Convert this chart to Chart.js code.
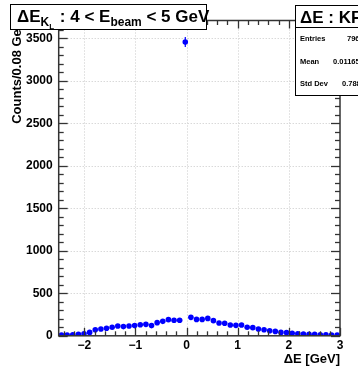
<!DOCTYPE html>
<html>
<head>
<meta charset="utf-8">
<script src="https://cdn.jsdelivr.net/npm/chart.js@4/dist/chart.umd.min.js"></script>
<style>
html,body{margin:0;padding:0;background:#fff;}
#wrap{width:358px;height:366px;position:relative;}
canvas{display:block;}
</style>
</head>
<body>
<div id="wrap"><canvas id="c" width="358" height="366"></canvas></div>
<script>
// ---- data ----
const binCenters = [-2.445,-2.335,-2.225,-2.115,-2.005,-1.895,-1.785,-1.675,-1.565,-1.455,
  -1.345,-1.235,-1.125,-1.015,-0.905,-0.795,-0.685,-0.575,-0.465,-0.355,
  -0.245,-0.135,-0.025,0.085,0.195,0.305,0.415,0.525,0.635,0.745,
  0.855,0.965,1.075,1.185,1.295,1.405,1.515,1.625,1.735,1.845,
  1.955,2.065,2.175,2.285,2.395,2.505,2.615,2.725,2.835,2.945];
const counts = [10,10,13,17,25,40,72,80,88,100,
  115,108,115,120,130,135,120,155,170,190,
  183,183,3456,217,193,193,205,178,150,147,
  127,123,127,100,96,80,72,60,52,40,
  37,29,25,21,17,17,13,13,10,10];
const yTickValues = [0,500,1000,1500,2000,2500,3000,3500];
const xTickValues = [-2,-1,0,1,2,3];
const statNames = ["Entries","Mean","Std Dev"];
const statValues = ["7965","0.01165","0.7885"];
const titleText = {main:"\u0394E", sub:"K", subsub:"L", mid:" : 4 < E", sub2:"beam", end:" < 5 GeV"};
const statsTitle = "\u0394E : KFit";
const xTitle = "\u0394E [GeV]";
const yTitle = "Counts/0.08 GeV";

const FONT = '"Liberation Sans", Arial, Helvetica, sans-serif';

const points = binCenters.map((x,i)=>({x:x, y:counts[i]}));

const rootPlugin = {
  id:'rootStyle',
  beforeDatasetsDraw(chart){
    const ctx = chart.ctx, a = chart.chartArea;
    const xs = chart.scales.x, ys = chart.scales.y;
    ctx.save();
    ctx.strokeStyle = '#c8c8c8';
    ctx.lineWidth = 1;
    ctx.setLineDash([1,2]);
    xTickValues.forEach(v=>{
      const px = Math.round(xs.getPixelForValue(v))+0.5;
      if (px > a.right-2) return;
      ctx.beginPath(); ctx.moveTo(px,a.top); ctx.lineTo(px,a.bottom); ctx.stroke();
    });
    yTickValues.forEach(v=>{
      const py = Math.round(ys.getPixelForValue(v))+0.5;
      if (py > a.bottom-2) return;
      ctx.beginPath(); ctx.moveTo(a.left,py); ctx.lineTo(a.right,py); ctx.stroke();
    });
    ctx.setLineDash([]);
    ctx.strokeStyle = '#0000ff';
    ctx.lineWidth = 1.2;
    points.forEach(p=>{
      const e = Math.sqrt(p.y);
      const px = xs.getPixelForValue(p.x);
      ctx.beginPath();
      ctx.moveTo(px, ys.getPixelForValue(p.y+e));
      ctx.lineTo(px, ys.getPixelForValue(p.y-e));
      ctx.stroke();
    });
    ctx.restore();
  },
  afterDatasetsDraw(chart){
    const ctx = chart.ctx, a = chart.chartArea;
    const xs = chart.scales.x, ys = chart.scales.y;
    ctx.save();
    ctx.strokeStyle = '#333';
    ctx.lineWidth = 1.3;
    for (let v=0; v<=3700; v+=100){
      const py = Math.round(ys.getPixelForValue(v))+0.5;
      const L = (v%500===0)?9:5;
      ctx.beginPath(); ctx.moveTo(a.left,py); ctx.lineTo(a.left+L,py); ctx.stroke();
      ctx.beginPath(); ctx.moveTo(a.right,py); ctx.lineTo(a.right-L,py); ctx.stroke();
    }
    for (let k=-12; k<=15; k++){
      const v = k*0.2;
      if (v < -2.5 || v > 3.0001) continue;
      const px = Math.round(xs.getPixelForValue(v))+0.5;
      const major = (k%5===0);
      const L = major?8:4.5;
      ctx.beginPath(); ctx.moveTo(px,a.bottom); ctx.lineTo(px,a.bottom-L); ctx.stroke();
      ctx.beginPath(); ctx.moveTo(px,a.top); ctx.lineTo(px,a.top+L); ctx.stroke();
    }
    ctx.lineWidth = 1.5;
    ctx.strokeStyle = '#333';
    ctx.strokeRect(a.left, a.top, a.right-a.left, a.bottom-a.top);
    ctx.fillStyle = '#000';
    ctx.font = 'bold 13px '+FONT;
    ctx.textAlign = 'right';
    ctx.textBaseline = 'alphabetic';
    ctx.fillText(xTitle, a.right, 363);
    ctx.save();
    ctx.translate(21, a.top);
    ctx.rotate(-Math.PI/2);
    ctx.textAlign = 'right';
    ctx.fillText(yTitle, 0, 0);
    ctx.restore();

    // title box
    ctx.fillStyle = '#fff';
    ctx.fillRect(10,4,197,26);
    ctx.strokeStyle = '#000';
    ctx.lineWidth = 1;
    ctx.strokeRect(10.5,4.5,196,25);
    ctx.fillStyle = '#000';
    ctx.textAlign = 'left';
    let x = 17, base = 22;
    ctx.font = 'bold 17px '+FONT;
    ctx.fillText(titleText.main, x, base); x += ctx.measureText(titleText.main).width;
    ctx.font = 'bold 12px '+FONT;
    ctx.fillText(titleText.sub, x, base+4); x += ctx.measureText(titleText.sub).width;
    ctx.font = 'bold 8px '+FONT;
    ctx.fillText(titleText.subsub, x, base+7); x += ctx.measureText(titleText.subsub).width+1;
    ctx.font = 'bold 17px '+FONT;
    ctx.fillText(titleText.mid, x, base); x += ctx.measureText(titleText.mid).width;
    ctx.font = 'bold 12px '+FONT;
    ctx.fillText(titleText.sub2, x, base+4); x += ctx.measureText(titleText.sub2).width;
    ctx.font = 'bold 17px '+FONT;
    ctx.fillText(titleText.end, x, base);

    // stats box
    ctx.fillStyle = '#fff';
    ctx.fillRect(295,5,70,91);
    ctx.strokeStyle = '#000';
    ctx.lineWidth = 1;
    ctx.strokeRect(295.5,5.5,70,90);
    ctx.beginPath(); ctx.moveTo(295,27.5); ctx.lineTo(358,27.5); ctx.stroke();
    ctx.fillStyle = '#000';
    ctx.font = 'bold 17px '+FONT;
    ctx.textAlign = 'left';
    ctx.fillText(statsTitle, 300, 23);
    ctx.font = 'bold 7.5px '+FONT;
    const rowsY = [41, 64, 86];
    const valX = [347, 333, 342];
    statNames.forEach((n,i)=>{
      ctx.textAlign = 'left';
      ctx.fillText(n, 300, rowsY[i]);
      ctx.fillText(statValues[i], valX[i], rowsY[i]);
    });
    ctx.restore();
  }
};

new Chart(document.getElementById('c'), {
  type:'scatter',
  data:{datasets:[{
    data: points,
    backgroundColor:'#0000ff',
    borderColor:'#0000ff',
    pointRadius:2.8,
    pointHoverRadius:2.8,
    pointBorderWidth:0,
    showLine:false
  }]},
  options:{
    responsive:false,
    animation:false,
    devicePixelRatio:1,
    layout:{padding:{left:0,right:18,top:20.5,bottom:0}},
    plugins:{legend:{display:false},tooltip:{enabled:false},title:{display:false}},
    scales:{
      x:{
        type:'linear', min:-2.5, max:3,
        grid:{display:false, drawTicks:false},
        border:{display:false},
        afterBuildTicks(s){ s.ticks = xTickValues.map(v=>({value:v})); },
        afterFit(s){ s.height = 30.2; },
        ticks:{
          autoSkip:false, maxRotation:0, padding:3,
          color:'#000',
          font:{family:FONT, weight:'bold', size:12},
          callback:(v)=> (v<0? '\u2212'+Math.abs(v) : String(v))
        }
      },
      y:{
        type:'linear', min:0, max:3710,
        grid:{display:false, drawTicks:false},
        border:{display:false},
        afterBuildTicks(s){ s.ticks = yTickValues.map(v=>({value:v})); },
        afterFit(s){ s.width = 58.7; },
        ticks:{
          autoSkip:false, padding:6,
          color:'#000',
          font:{family:FONT, weight:'bold', size:12},
          callback:(v)=> String(v)
        }
      }
    }
  },
  plugins:[rootPlugin]
});
</script>
</body>
</html>
